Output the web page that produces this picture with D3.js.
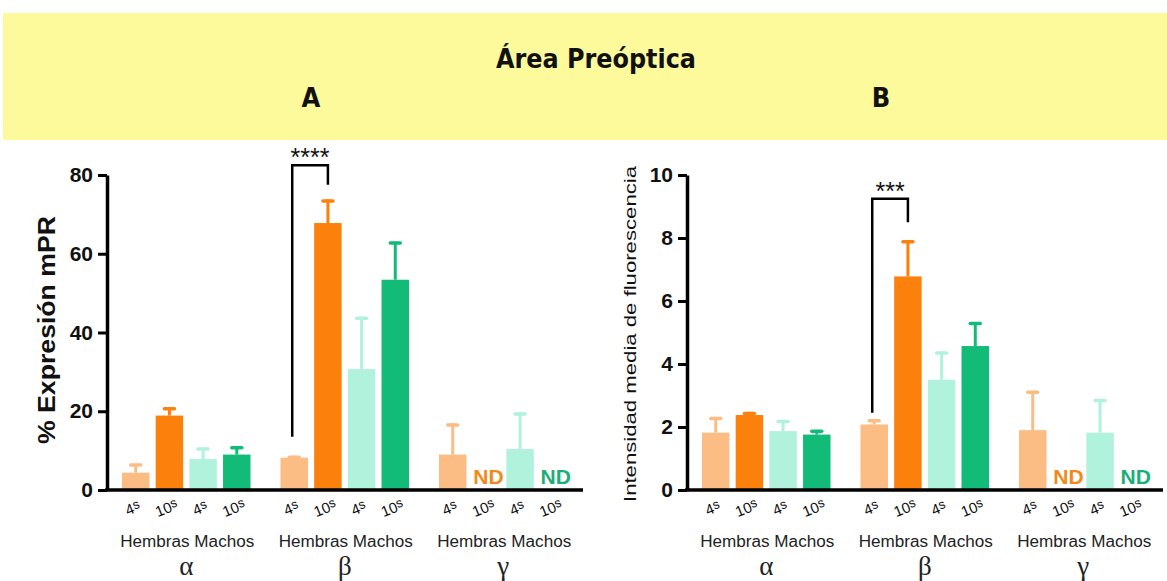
<!DOCTYPE html>
<html>
<head>
<meta charset="utf-8">
<script src="https://cdn.jsdelivr.net/npm/d3@7"></script>
<style>
  html, body { margin: 0; padding: 0; background: #fff; }
  svg { display: block; }
</style>
</head>
<body>
<svg id="chart" width="1167" height="581"></svg>
<script>
// ---------- data ----------
const groups = ["α", "β", "γ"];
const barKeys = ["H4s", "H10s", "M4s", "M10s"];
const tickLabels = ["4", "10", "4", "10"];
const sexLabel = "Hembras Machos";

// Panel A: % Expresión mPR (mean, SEM); null = ND
const meanA_alpha = [4.4, 18.9, 7.9, 9.0];
const semA_alpha  = [2.3, 2.1, 2.9, 2.1];
const meanA_beta  = [8.2, 67.8, 30.7, 53.4];
const semA_beta   = [0.5, 6.0, 13.3, 9.7];
const meanA_gamma = [9.0, null, 10.4, null];
const semA_gamma  = [7.9, null, 9.3, null];

// Panel B: Intensidad media de fluorescencia
const meanB_alpha = [1.82, 2.38, 1.87, 1.76];
const semB_alpha  = [0.50, 0.10, 0.35, 0.15];
const meanB_beta  = [2.08, 6.78, 3.50, 4.57];
const semB_beta   = [0.17, 1.15, 0.90, 0.76];
const meanB_gamma = [1.90, null, 1.82, null];
const semB_gamma  = [1.25, null, 1.07, null];

const ticksA = [0, 20, 40, 60, 80];
const ticksB = [0, 2, 4, 6, 8, 10];

// significance brackets: [group, barFrom, barTo, topValue, leftBottom, rightBottom, label]
const sigA = ["β", 0, 1, 82.5, 13.5, 77.5, "****"];
const sigB = ["β", 0, 1, 9.25, 2.45, 8.5, "***"];

const colors = ["#fbbd84", "#fb800c", "#b1f2dc", "#13bb79"];
const ndColors = ["#f08a1c", "#f08a1c", "#1cae79", "#1cae79"];

// ---------- drawing ----------
const svg = d3.select("#chart");

// header band
svg.append("rect").attr("x", 3).attr("y", 13).attr("width", 1164).attr("height", 127)
  .attr("fill", "#fdfa9c");
svg.append("text").attr("x", 596).attr("y", 68).attr("text-anchor", "middle")
  .attr("font-family", "'Liberation Sans Narrow', 'Arial Narrow', 'DejaVu Sans Condensed', sans-serif")
  .attr("font-weight", "bold").attr("font-size", 27).attr("fill", "#111")
  .attr("textLength", 200).attr("lengthAdjust", "spacingAndGlyphs")
  .text("Área Preóptica");
[["A", 311], ["B", 881]].forEach(([t, x]) => {
  svg.append("text").attr("x", x).attr("y", 107).attr("text-anchor", "middle")
    .attr("font-family", "'Liberation Sans Narrow', 'Arial Narrow', 'DejaVu Sans Condensed', sans-serif")
    .attr("font-weight", "bold").attr("font-size", 27).attr("fill", "#111").text(t);
});

function drawPanel(opt) {
  const g = svg.append("g");
  const ax = opt.axisX;
  const y = d3.scaleLinear().domain(opt.domain).range([490, 175]);
  const x0 = d3.scaleBand().domain(groups).range([ax + 11.9, ax + 463.6]).paddingInner(0.15).paddingOuter(0);
  const x1 = d3.scaleBand().domain(barKeys).range([0, x0.bandwidth()]).paddingInner(0.184).paddingOuter(0.092);

  const rows = groups.map((gr, gi) => barKeys.map((k, bi) => ({
    group: gr, key: k, bi, mean: opt.means[gi][bi], sem: opt.sems[gi][bi]
  }))).flat();

  const cx = d => x0(d.group) + x1(d.key) + x1.bandwidth() / 2;

  // bars
  const valid = rows.filter(d => d.mean !== null);
  g.selectAll("rect.bar").data(valid).join("rect")
    .attr("class", "bar")
    .attr("x", d => x0(d.group) + x1(d.key))
    .attr("width", x1.bandwidth())
    .attr("y", d => y(d.mean))
    .attr("height", d => y(0) - y(d.mean))
    .attr("fill", d => colors[d.bi]);

  // error bars
  g.selectAll("line.err").data(valid).join("line")
    .attr("x1", cx).attr("x2", cx)
    .attr("y1", d => y(d.mean)).attr("y2", d => y(d.mean + d.sem))
    .attr("stroke", d => colors[d.bi]).attr("stroke-width", 3);
  g.selectAll("line.cap").data(valid).join("line")
    .attr("x1", d => cx(d) - 5).attr("x2", d => cx(d) + 5)
    .attr("y1", d => y(d.mean + d.sem) + 1.5).attr("y2", d => y(d.mean + d.sem) + 1.5)
    .attr("stroke", d => colors[d.bi]).attr("stroke-width", 3.5).attr("stroke-linecap", "round");

  // ND labels
  g.selectAll("text.nd").data(rows.filter(d => d.mean === null)).join("text")
    .attr("x", d => cx(d) + 2).attr("y", 484).attr("text-anchor", "middle")
    .attr("font-family", "'Liberation Sans', Arial, sans-serif").attr("font-weight", "bold")
    .attr("font-size", 21).attr("fill", d => ndColors[d.bi]).text("ND");

  // axes
  const yAxis = d3.axisLeft(y).tickValues(opt.ticks).tickSize(9).tickSizeOuter(0).tickPadding(5);
  const ya = g.append("g").attr("transform", `translate(${ax},0)`).call(yAxis);
  ya.select(".domain").attr("stroke", "#000").attr("stroke-width", 3.5);
  ya.selectAll(".tick line").attr("stroke", "#000").attr("stroke-width", 3);
  ya.selectAll(".tick text").attr("font-family", "'Liberation Sans', Arial, sans-serif")
    .attr("font-weight", "bold").attr("font-size", 21).attr("fill", "#111");

  const xLine = d3.scaleLinear().domain([0, 1]).range([ax - 2, ax + 476]);
  g.append("line").attr("x1", xLine(0)).attr("x2", xLine(1)).attr("y1", 490).attr("y2", 490)
    .attr("stroke", "#000").attr("stroke-width", 3.5);

  // tick labels (4s / 10s)
  const tl = g.selectAll("text.tl").data(rows).join("text")
    .attr("transform", d => `translate(${cx(d) - 1},${513}) rotate(-22)`)
    .attr("text-anchor", "middle")
    .attr("font-family", "'Liberation Sans', Arial, sans-serif").attr("font-size", 15).attr("fill", "#111");
  tl.append("tspan").text(d => tickLabels[d.bi]);
  tl.append("tspan").attr("dy", -3).attr("font-size", 13).text("s");

  // Hembras Machos + greek
  groups.forEach(gr => {
    const c = x0(gr) + x0.bandwidth() / 2;
    g.append("text").attr("x", c + 1).attr("y", 547).attr("text-anchor", "middle")
      .attr("font-family", "'Liberation Sans', Arial, sans-serif").attr("font-size", 16)
      .attr("fill", "#222").attr("textLength", 134).attr("lengthAdjust", "spacingAndGlyphs").text(sexLabel);
    g.append("text").attr("x", c).attr("y", 575).attr("text-anchor", "middle")
      .attr("font-family", "'Liberation Serif', 'Times New Roman', serif").attr("font-size", 27)
      .attr("fill", "#222").text(gr);
  });

  // significance bracket
  const s = opt.sig;
  const bx1 = x0(s[0]) + x1(barKeys[s[1]]) + x1.bandwidth() / 2 - 2;
  const bx2 = x0(s[0]) + x1(barKeys[s[2]]) + x1.bandwidth() / 2;
  const path = d3.path();
  path.moveTo(bx1, y(s[4])); path.lineTo(bx1, y(s[3])); path.lineTo(bx2, y(s[3])); path.lineTo(bx2, y(s[5]));
  g.append("path").attr("d", path.toString()).attr("fill", "none").attr("stroke", "#000").attr("stroke-width", 2.5);
  g.append("text").attr("x", (bx1 + bx2) / 2).attr("y", y(s[3]) + 1)
    .attr("text-anchor", "middle").attr("font-family", "'Liberation Sans', Arial, sans-serif")
    .attr("font-size", 25).attr("fill", "#111").text(s[6]);

  // y label
  g.append("text").attr("transform", `translate(${opt.labelX},${opt.labelY}) rotate(-90)`)
    .attr("text-anchor", "middle").attr("font-family", "'Liberation Sans', Arial, sans-serif")
    .attr("font-weight", opt.labelWeight).attr("font-size", opt.labelSize).attr("fill", "#111")
    .attr("textLength", opt.labelLen).attr("lengthAdjust", "spacingAndGlyphs")
    .text(opt.label);
}

drawPanel({
  axisX: 107, domain: [0, 80], ticks: ticksA,
  means: [meanA_alpha, meanA_beta, meanA_gamma], sems: [semA_alpha, semA_beta, semA_gamma],
  sig: sigA, label: "% Expresión mPR", labelX: 55, labelY: 330, labelWeight: "bold", labelSize: 23, labelLen: 228
});
drawPanel({
  axisX: 687, domain: [0, 10], ticks: ticksB,
  means: [meanB_alpha, meanB_beta, meanB_gamma], sems: [semB_alpha, semB_beta, semB_gamma],
  sig: sigB, label: "Intensidad media de fluorescencia", labelX: 636, labelY: 334, labelWeight: "normal", labelSize: 16, labelLen: 336
});
</script>
</body>
</html>
